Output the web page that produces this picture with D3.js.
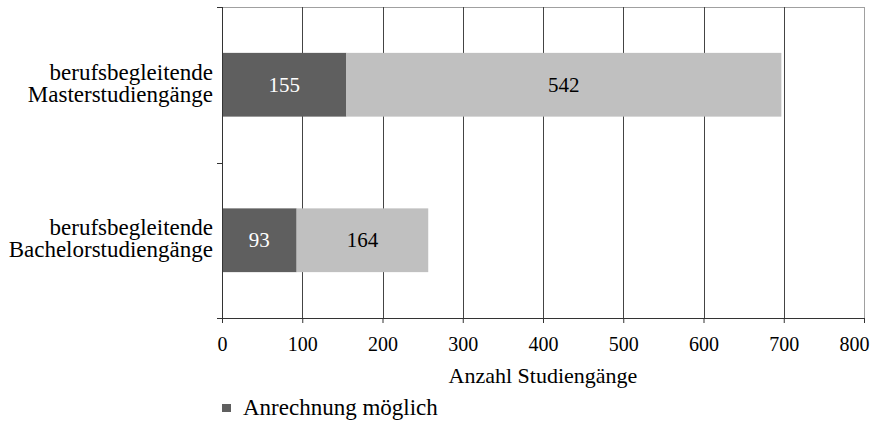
<!DOCTYPE html>
<html><head><meta charset="utf-8">
<script src="https://cdn.jsdelivr.net/npm/d3@7"></script>
<style>body{margin:0;background:#fff}svg{display:block}</style>
</head><body>
<script>
const categories = [["berufsbegleitende","Masterstudiengänge"],["berufsbegleitende","Bachelorstudiengänge"]];
const seriesNames = ["Anrechnung möglich", "Anrechnung nicht möglich"];
const possible = [155, 93];
const notPossible = [542, 164];
const xTicks = [0,100,200,300,400,500,600,700,800];
const xTitle = "Anzahl Studiengänge";

const FONT="Liberation Serif";
const W=873,H=424;
const m={l:222,r:9,t:7,b:106};
const pw=W-m.l-m.r, ph=H-m.t-m.b;
const svg=d3.select("body").append("svg").attr("width",W).attr("height",H).attr("font-family",FONT);
const g=svg.append("g").attr("transform",`translate(${m.l},${m.t})`);
const x=d3.scaleLinear().domain([0,800]).range([0,pw]);
const y=d3.scaleBand().domain(d3.range(categories.length)).range([0,ph]).padding(0);
const barH=y.bandwidth()*0.41;

// frame top/right
g.append("line").attr("x1",-5).attr("x2",pw).attr("y1",0.5).attr("y2",0.5).attr("stroke","#a0a0a0");
g.append("line").attr("x1",pw+0.5).attr("x2",pw+0.5).attr("y1",0).attr("y2",ph).attr("stroke","#a0a0a0");
// gridlines
g.selectAll(".grid").data(xTicks.filter(d=>d>0&&d<800)).enter().append("line")
 .attr("x1",d=>Math.round(x(d))+0.5).attr("x2",d=>Math.round(x(d))+0.5).attr("y1",0).attr("y2",ph)
 .attr("stroke","#444").attr("stroke-width",1);

const rows=categories.map((c,i)=>({i,a:possible[i],b:notPossible[i]}));
const bars=g.selectAll(".row").data(rows).enter().append("g");
bars.append("rect").attr("x",0).attr("y",d=>y(d.i)+(y.bandwidth()-barH)/2).attr("width",d=>x(d.a)).attr("height",barH).attr("fill","#5f5f5f");
bars.append("rect").attr("x",d=>x(d.a)).attr("y",d=>y(d.i)+(y.bandwidth()-barH)/2).attr("width",d=>x(d.a+d.b)-x(d.a)).attr("height",barH).attr("fill","#c0c0c0");
bars.append("text").attr("x",d=>x(d.a/2)).attr("y",d=>y(d.i)+y.bandwidth()/2+7).attr("text-anchor","middle").attr("font-size",21).attr("font-family",FONT).attr("fill","#fff").text(d=>d.a);
bars.append("text").attr("x",d=>x(d.a+d.b/2)).attr("y",d=>y(d.i)+y.bandwidth()/2+7).attr("text-anchor","middle").attr("font-size",21).attr("font-family",FONT).attr("fill","#000").text(d=>d.b);

// y axis
g.append("line").attr("x1",0.5).attr("x2",0.5).attr("y1",0).attr("y2",ph).attr("stroke","#333");
[0,ph/2,ph].forEach(v=>g.append("line").attr("x1",-5).attr("x2",0).attr("y1",Math.round(v)+0.5).attr("y2",Math.round(v)+0.5).attr("stroke","#333"));
categories.forEach((c,i)=>{
  const t=g.append("text").attr("text-anchor","end").attr("font-size",23).attr("font-family",FONT).attr("fill","#000");
  const cy=y(i)+y.bandwidth()/2;
  t.append("tspan").attr("x",-9).attr("y",cy-5).text(c[0]);
  t.append("tspan").attr("x",-9).attr("y",cy+17).text(c[1]);
});

// x axis
const ax=g.append("g").attr("transform",`translate(0,${ph})`).call(d3.axisBottom(x).tickValues(xTicks).tickSize(5).tickSizeOuter(0).tickPadding(14));
ax.attr("font-family",FONT);
ax.select(".domain").attr("stroke","#333").attr("d",`M-5,0.5H${pw}`);
ax.selectAll(".tick line").attr("stroke","#333");
ax.selectAll(".tick text").attr("font-size",20).attr("fill","#000").attr("font-family",FONT)
  .attr("dx",d=>d===800?-10:0);
g.append("text").attr("x",x(400)).attr("y",ph+65).attr("text-anchor","middle").attr("font-size",22).attr("font-family",FONT).text(xTitle);

// legend
svg.append("rect").attr("x",222).attr("y",404).attr("width",9).attr("height",8).attr("fill","#5f5f5f");
svg.append("text").attr("x",243).attr("y",415).attr("font-size",23).attr("font-family",FONT).text(seriesNames[0]);
</script>
</body></html>
